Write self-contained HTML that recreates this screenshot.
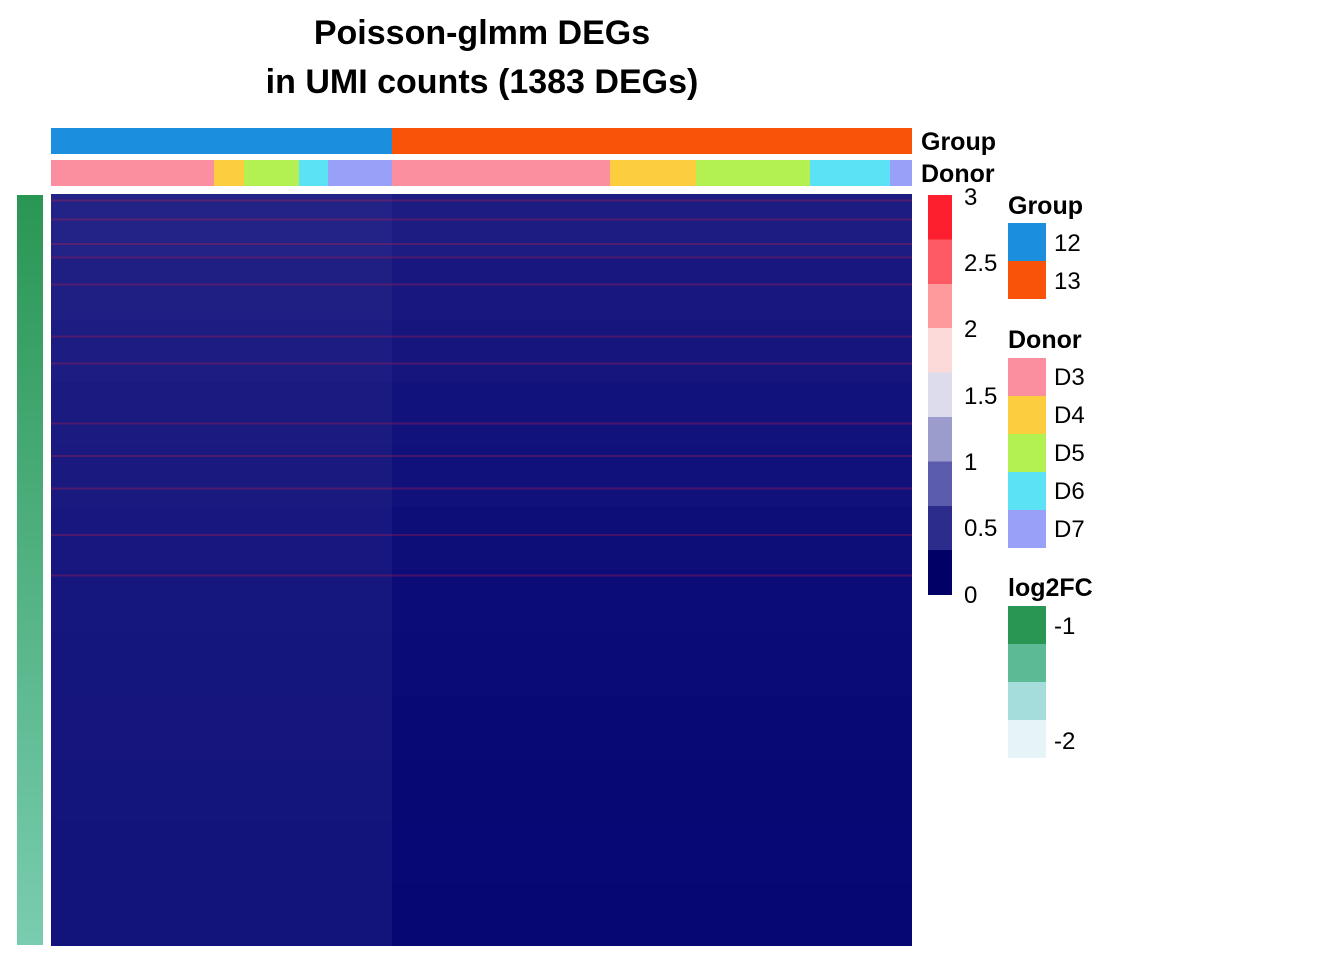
<!DOCTYPE html>
<html><head><meta charset="utf-8">
<style>
body{margin:0;background:#fff;width:1344px;height:960px;overflow:hidden;font-family:"Liberation Sans",Arial,sans-serif;}
.t{position:absolute;font-size:24px;color:#000;line-height:26px;}
.b{font-weight:bold;font-size:25px;}
.sq{position:absolute;width:38px;height:38px;}
</style></head><body>
<div style="position:relative;width:1344px;height:960px;">
<div class="t b" style="left:0;width:964px;top:14px;text-align:center;font-size:34px;line-height:38px;">Poisson-glmm DEGs</div>
<div class="t b" style="left:0;width:964px;top:63px;text-align:center;font-size:34px;line-height:38px;">in UMI counts (1383 DEGs)</div>
<svg id="hm" width="1344" height="960" style="position:absolute;left:0;top:0"></svg>
<div class="t b" style="left:921px;top:129px;">Group</div>
<div class="t b" style="left:921px;top:161px;">Donor</div>
<div class="t" style="left:964px;top:185px">3</div>
<div class="t" style="left:964px;top:251px">2.5</div>
<div class="t" style="left:964px;top:317px">2</div>
<div class="t" style="left:964px;top:384px">1.5</div>
<div class="t" style="left:964px;top:450px">1</div>
<div class="t" style="left:964px;top:516px">0.5</div>
<div class="t" style="left:964px;top:583px">0</div>
<div class="t b" style="left:1008px;top:193px">Group</div>
<div class="sq" style="left:1008px;top:223px;background:#1c8ede"></div>
<div class="sq" style="left:1008px;top:261px;background:#f9530a"></div>
<div class="t" style="left:1054px;top:231px">12</div>
<div class="t" style="left:1054px;top:269px">13</div>
<div class="t b" style="left:1008px;top:327px">Donor</div>
<div class="sq" style="left:1008px;top:358px;background:#fb8f9f"></div>
<div class="sq" style="left:1008px;top:396px;background:#fccd3f"></div>
<div class="sq" style="left:1008px;top:434px;background:#b3f152"></div>
<div class="sq" style="left:1008px;top:472px;background:#5be3f5"></div>
<div class="sq" style="left:1008px;top:510px;background:#98a1f7"></div>
<div class="t" style="left:1054px;top:365px">D3</div>
<div class="t" style="left:1054px;top:403px">D4</div>
<div class="t" style="left:1054px;top:441px">D5</div>
<div class="t" style="left:1054px;top:479px">D6</div>
<div class="t" style="left:1054px;top:517px">D7</div>
<div class="t b" style="left:1008px;top:575px">log2FC</div>
<div class="sq" style="left:1008px;top:606px;background:#2a9654"></div>
<div class="sq" style="left:1008px;top:644px;background:#5cbb95"></div>
<div class="sq" style="left:1008px;top:682px;background:#a5dcdc"></div>
<div class="sq" style="left:1008px;top:720px;background:#e6f4f8"></div>
<div class="t" style="left:1054px;top:614px">-1</div>
<div class="t" style="left:1054px;top:729px">-2</div>
</div>
<script>
const donors=["D3","D4","D5","D6","D7","D3","D4","D5","D6","D7"];
const donorCells=[190,35,65,33,75,255,100,133,93,26];
const groupOf=["12","12","12","12","12","13","13","13","13","13"];
const bandMeans12=[0.42,0.36,0.34,0.32,0.30,0.28,0.27,0.26,0.25,0.24,0.23,0.23];
const bandMeans13=[0.34,0.28,0.25,0.22,0.20,0.17,0.15,0.13,0.11,0.10,0.09,0.08];
const hotGenes=[10,45,90,115,165,260,310,420,480,540,625,700];
const nGenes=1383;
const scaleCols=["#fe1f2e","#fd5a63","#fd9a9c","#fddada","#dcdcec","#9c9ccc","#5c5cac","#2c2c8c","#000066"];

const NS="http://www.w3.org/2000/svg";
const svg=document.getElementById('hm');
function r(x,y,w,h,f,name){const e=document.createElementNS(NS,'rect');e.setAttribute('x',x);e.setAttribute('y',y);e.setAttribute('width',w);e.setAttribute('height',h);e.setAttribute('fill',f);e.setAttribute('shape-rendering','crispEdges');


svg.appendChild(e);return e;}
const X0=51,X1=912,Y0=194,Y1=946;
const nCells=donorCells.reduce((a,b)=>a+b,0);
const xs=c=>X0+(X1-X0)*c/nCells;
const ys=g=>Y0+(Y1-Y0)*g/nGenes;
function blend(v){const a=[0,0,112],b=[150,150,210];const t=Math.max(0,Math.min(1,v));return `rgb(${a.map((q,i)=>Math.round(q+(b[i]-q)*t)).join(',')})`;}
const dcol={D3:"#fb8f9f",D4:"#fccd3f",D5:"#b3f152",D6:"#5be3f5",D7:"#98a1f7"};
const gcol={"12":"#1c8ede","13":"#f9530a"};
let c=0;
donors.forEach((d,i)=>{
  const xa=Math.round(xs(c)),xb=Math.round(xs(c+donorCells[i]));
  r(xa,128,xb-xa,26,gcol[groupOf[i]],'group-annotation-cell');
  r(xa,160,xb-xa,26,dcol[d],'donor-annotation-cell');
  const means=groupOf[i]==="12"?bandMeans12:bandMeans13;
  means.forEach((m,k)=>{
    const ya=Math.round(ys(nGenes*k/means.length)),yb=Math.round(ys(nGenes*(k+1)/means.length));
    r(xa,ya,xb-xa,yb-ya,blend(m*0.55),'heatmap-band');
  });
  c+=donorCells[i];
});
hotGenes.forEach(g=>{r(X0,ys(g),X1-X0,2,'rgba(200,30,70,0.3)','hot-gene-row');});
scaleCols.forEach((col,i)=>r(928,195+i*44.4,24,44.6,col,'color-scale-step'));
const defs=document.createElementNS(NS,'defs');defs.innerHTML='<linearGradient id="lg" x1="0" y1="0" x2="0" y2="1"><stop offset="0" stop-color="#2a9654"/><stop offset="1" stop-color="#79cdb0"/></linearGradient>';svg.appendChild(defs);
r(17,195,26,750,'url(#lg)','log2fc-annotation-bar');
</script>
</body></html>
